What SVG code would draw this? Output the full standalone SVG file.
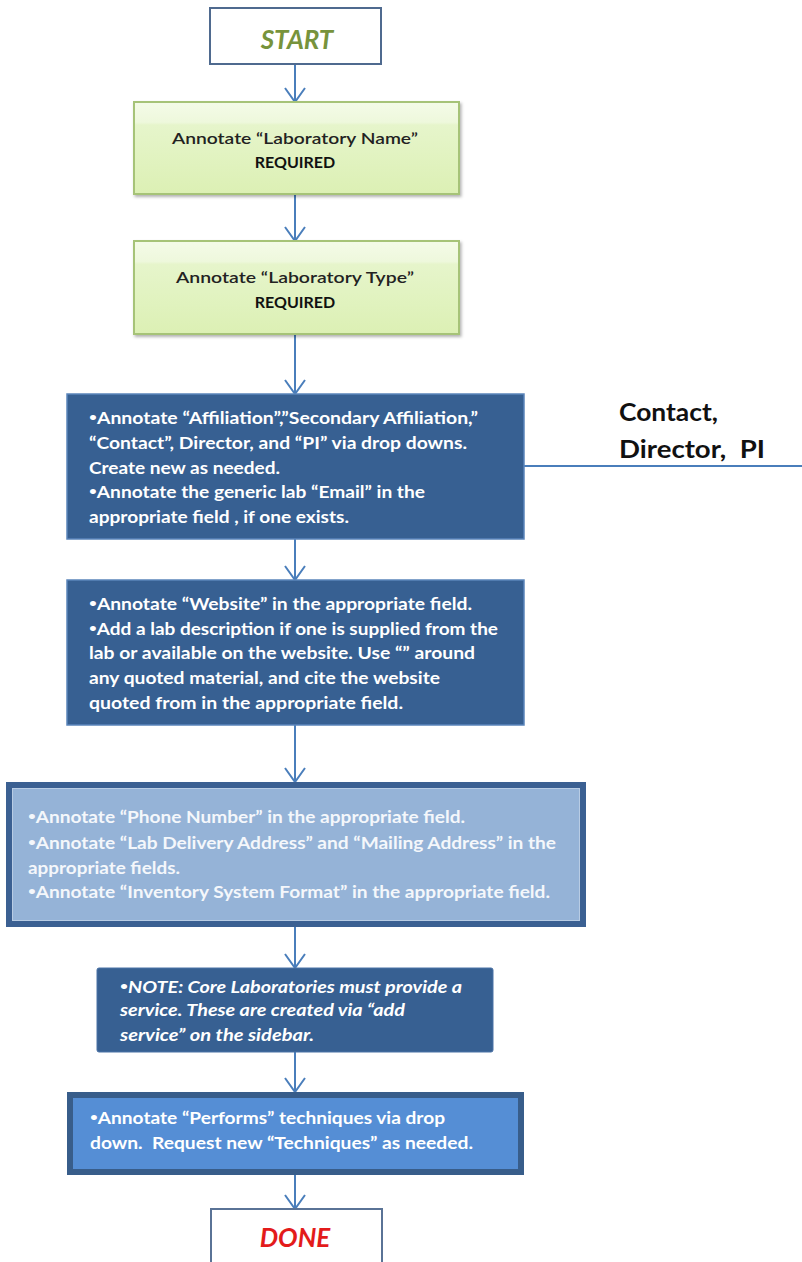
<svg xmlns="http://www.w3.org/2000/svg" width="802" height="1262" viewBox="0 0 802 1262">
<defs>
<linearGradient id="gr" x1="0" y1="0" x2="0" y2="1">
<stop offset="0" stop-color="#f4fbe8"/>
<stop offset="0.22" stop-color="#eef8dc"/>
<stop offset="0.25" stop-color="#e6f5cb"/>
<stop offset="1" stop-color="#dcf0b4"/>
</linearGradient>
<filter id="sh" x="-5%" y="-5%" width="115%" height="120%">
<feDropShadow dx="1.5" dy="2" stdDeviation="1.5" flood-color="#000" flood-opacity="0.3"/>
</filter>
<marker id="ah" markerWidth="18" markerHeight="24" refX="15" refY="11" orient="auto" markerUnits="userSpaceOnUse">
<path d="M1,1 L15,11 L1,21" fill="none" stroke="#4a7ebb" stroke-width="2"/>
</marker>
</defs>
<style>
.t{font-family:Lato,"Liberation Sans",sans-serif;}
.w{fill:#ffffff;font-weight:bold;font-size:17px;}
.w5{fill:#f4f7fb;font-weight:bold;font-size:17px;}
.g{fill:#222;font-size:16px;font-weight:600;}
.gb{fill:#111;font-size:16px;font-weight:bold;}
.c{stroke:#4a7ebb;stroke-width:2;fill:none;}
.dk{fill:#376092;stroke:#5b85bb;stroke-width:1.5;}
.b{font-size:12px;baseline-shift:3px;}
</style>
<g id="connectors">
<line class="c" x1="295" y1="64" x2="295" y2="102" marker-end="url(#ah)"/>
<line class="c" x1="295" y1="194" x2="295" y2="241" marker-end="url(#ah)"/>
<line class="c" x1="295" y1="334" x2="295" y2="394" marker-end="url(#ah)"/>
<line class="c" x1="295" y1="539" x2="295" y2="580" marker-end="url(#ah)"/>
<line class="c" x1="295" y1="725" x2="295" y2="782" marker-end="url(#ah)"/>
<line class="c" x1="295" y1="927" x2="295" y2="968" marker-end="url(#ah)"/>
<line class="c" x1="295" y1="1052" x2="295" y2="1092" marker-end="url(#ah)"/>
<line class="c" x1="295" y1="1175" x2="295" y2="1209" marker-end="url(#ah)"/>
<line class="c" x1="524" y1="466" x2="802" y2="466"/>
</g>
<g id="start">
<rect x="210" y="8" width="171" height="56" fill="#fff" stroke="#4f6a8f" stroke-width="2"/>
<text class="t" x="297" y="49" text-anchor="middle" font-size="26" font-weight="bold" font-style="italic" fill="#77933c">START</text>
</g>
<g id="lab-name">
<rect x="134" y="102" width="325" height="92" fill="url(#gr)" stroke="#a6c378" stroke-width="2" filter="url(#sh)"/>
<text class="t g" x="295" y="144" text-anchor="middle" textLength="246" lengthAdjust="spacingAndGlyphs">Annotate “Laboratory Name”</text>
<text class="t gb" x="295" y="168" text-anchor="middle">REQUIRED</text>
</g>
<g id="lab-type">
<rect x="134" y="241" width="325" height="93" fill="url(#gr)" stroke="#a6c378" stroke-width="2" filter="url(#sh)"/>
<text class="t g" x="295" y="283" text-anchor="middle" textLength="238" lengthAdjust="spacingAndGlyphs">Annotate “Laboratory Type”</text>
<text class="t gb" x="295" y="308" text-anchor="middle">REQUIRED</text>
</g>
<g id="affiliation">
<rect class="dk" x="67" y="394" width="457" height="145"/>
<text class="t w" x="89" y="424" textLength="389" lengthAdjust="spacingAndGlyphs"><tspan class="b">•</tspan>Annotate “Affiliation”,”Secondary Affiliation,”</text>
<text class="t w" x="89" y="449" textLength="378" lengthAdjust="spacingAndGlyphs">“Contact”, Director, and “PI” via drop downs.</text>
<text class="t w" x="89" y="474" textLength="191" lengthAdjust="spacingAndGlyphs">Create new as needed.</text>
<text class="t w" x="89" y="498" textLength="336" lengthAdjust="spacingAndGlyphs"><tspan class="b">•</tspan>Annotate the generic lab “Email” in the</text>
<text class="t w" x="89" y="523" textLength="260" lengthAdjust="spacingAndGlyphs">appropriate field , if one exists.</text>
</g>
<g id="contact-label">
<text class="t" x="619" y="421" font-size="24" font-weight="bold" fill="#111" textLength="99" lengthAdjust="spacingAndGlyphs">Contact,</text>
<text class="t" x="619" y="458" font-size="24" font-weight="bold" fill="#111" xml:space="preserve" textLength="146" lengthAdjust="spacingAndGlyphs">Director,  PI</text>
</g>
<g id="website">
<rect class="dk" x="67" y="580" width="457" height="145"/>
<text class="t w" x="89" y="610" textLength="383" lengthAdjust="spacingAndGlyphs"><tspan class="b">•</tspan>Annotate “Website” in the appropriate field.</text>
<text class="t w" x="89" y="635" textLength="409" lengthAdjust="spacingAndGlyphs"><tspan class="b">•</tspan>Add a lab description if one is supplied from the</text>
<text class="t w" x="89" y="659" textLength="386" lengthAdjust="spacingAndGlyphs">lab or available on the website. Use “” around</text>
<text class="t w" x="89" y="684" textLength="351" lengthAdjust="spacingAndGlyphs">any quoted material, and cite the website</text>
<text class="t w" x="89" y="709" textLength="314" lengthAdjust="spacingAndGlyphs">quoted from in the appropriate field.</text>
</g>
<g id="phone">
<rect x="9" y="785" width="574" height="139" fill="#95b3d7" stroke="#3b6092" stroke-width="6"/>
<rect x="12.5" y="788.5" width="567" height="132" fill="none" stroke="#b8cce4" stroke-width="1"/>
<text class="t w5" x="28" y="823" textLength="437" lengthAdjust="spacingAndGlyphs"><tspan class="b">•</tspan>Annotate “Phone Number” in the appropriate field.</text>
<text class="t w5" x="28" y="849" textLength="528" lengthAdjust="spacingAndGlyphs"><tspan class="b">•</tspan>Annotate “Lab Delivery Address” and “Mailing Address” in the</text>
<text class="t w5" x="28" y="874" textLength="152" lengthAdjust="spacingAndGlyphs">appropriate fields.</text>
<text class="t w5" x="28" y="898" textLength="522" lengthAdjust="spacingAndGlyphs"><tspan class="b">•</tspan>Annotate “Inventory System Format” in the appropriate field.</text>
</g>
<g id="note">
<rect x="97" y="968" width="396" height="84" rx="2" fill="#376092" stroke="#4a72a6" stroke-width="1"/>
<text class="t w" x="120" y="993" font-style="italic" textLength="342" lengthAdjust="spacingAndGlyphs"><tspan class="b">•</tspan>NOTE: Core Laboratories must provide a</text>
<text class="t w" x="120" y="1016" font-style="italic" textLength="285" lengthAdjust="spacingAndGlyphs">service. These are created via “add</text>
<text class="t w" x="120" y="1041" font-style="italic" textLength="194" lengthAdjust="spacingAndGlyphs">service” on the sidebar.</text>
</g>
<g id="performs">
<rect x="70" y="1095" width="451" height="77" fill="#558ed5" stroke="#385d8a" stroke-width="6"/>
<text class="t w" x="90" y="1124" textLength="355" lengthAdjust="spacingAndGlyphs"><tspan class="b">•</tspan>Annotate “Performs” techniques via drop</text>
<text class="t w" x="90" y="1149" xml:space="preserve" textLength="383" lengthAdjust="spacingAndGlyphs">down.  Request new “Techniques” as needed.</text>
</g>
<g id="done">
<rect x="211" y="1209" width="171" height="60" fill="#fff" stroke="#5a7396" stroke-width="2"/>
<text class="t" x="295" y="1247" text-anchor="middle" font-size="26" font-weight="bold" font-style="italic" fill="#e31b1b">DONE</text>
</g>
</svg>
